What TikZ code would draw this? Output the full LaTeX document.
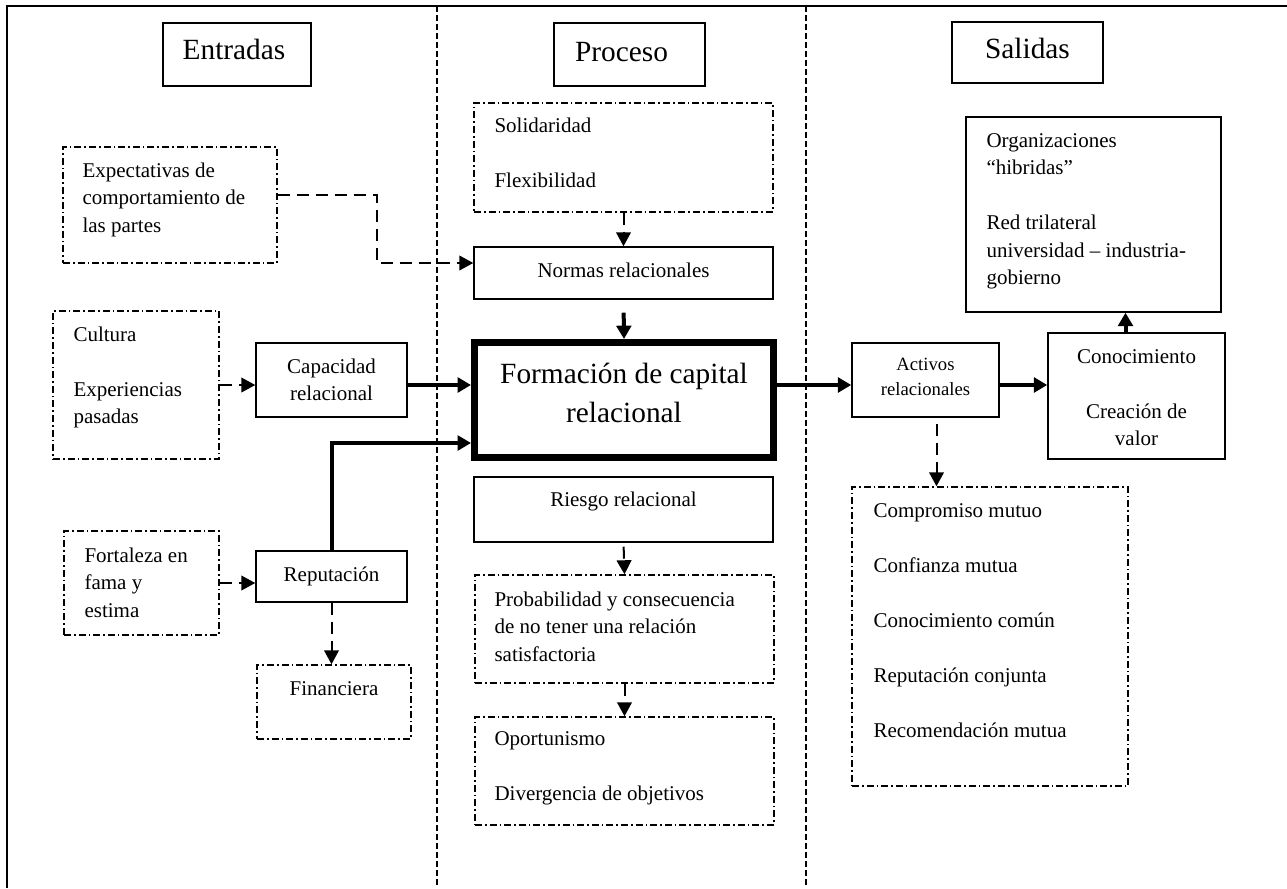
\documentclass[tikz,border=0pt]{standalone}
\usepackage{fontspec}
\setmainfont{Liberation Serif}
\usetikzlibrary{arrows.meta,calc,fit}

% text blocks whose baseline is the baseline of their first line
\newcommand\lft[1]{\parbox[t]{8cm}{\raggedright #1}}
\newcommand\ctr[1]{\parbox[t]{8cm}{\centering #1}}

\begin{document}
\begin{tikzpicture}[x=0.75pt,y=-0.75pt,
  every node/.style={inner sep=0pt},
  frame/.style={line width=1.5pt},
  sep/.style={line width=1pt, dash pattern=on 4.5pt off 2.25pt},
  solidbox/.style={draw, line width=1.1pt},
  ddbox/.style={draw, line width=1.1pt, dash pattern=on 5.25pt off 2.25pt on 1.2pt off 2.25pt},
  mainbox/.style={draw, line width=5.25pt},
  title/.style={font=\fontsize{22}{26}\selectfont, anchor=base},
  bigtxt/.style={font=\fontsize{22}{29.25}\selectfont, anchor=base},
  txt/.style={font=\fontsize{15.75}{20.6}\selectfont, anchor=base west},
  ctxt/.style={font=\fontsize{15.75}{20.6}\selectfont, anchor=base},
  smalltxt/.style={font=\fontsize{14}{18.75}\selectfont, anchor=base},
  flow/.style={-{Triangle[length=10pt,width=11pt]}, line width=3pt},
  weak/.style={-{Triangle[length=10.5pt,width=11pt]}, line width=1.5pt, dash pattern=on 9pt off 5.25pt},
]
\useasboundingbox (0,0) rectangle (1287,888);

% outer frame and column separators
\draw[frame] (7,888) -- (7,6) -- (1287,6);
\draw[sep] (437,6) -- (437,888);
\draw[sep] (806,6) -- (806,888);

% column headers
\node[solidbox, fit={(163,23)(311,86)}] (ent) {};
\node[solidbox, fit={(554,23)(705,86)}] (pro) {};
\node[solidbox, fit={(952,22)(1103,83)}] (sal) {};
\node[title] (entT) at ($(ent.north)+(-3,37)$) {Entradas};
\node[title] (proT) at ($(pro.north)+(-8,39)$) {Proceso};
\node[title] (salT) at ($(sal.north)+(0,37)$) {Salidas};

% boxes
\node[ddbox, fit={(474,103)(773,212)}] (sol) {};
\node[solidbox, fit={(474,247)(773,299)}] (nor) {};
\node[ddbox, fit={(63,147)(277,263)}] (exp) {};
\node[ddbox, fit={(53,311)(219,459)}] (cul) {};
\node[solidbox, fit={(256,343)(407,417)}] (cap) {};
\node[mainbox, fit={(474.5,342.5)(773.5,457.5)}] (frm) {};
\node[solidbox, fit={(852,343)(999,417)}] (act) {};
\node[solidbox, fit={(1048,333)(1225,459)}] (con) {};
\node[solidbox, fit={(966,117)(1221,312)}] (org) {};
\node[solidbox, fit={(474,477)(773,542)}] (rie) {};
\node[ddbox, fit={(64,531)(219,635)}] (fort) {};
\node[solidbox, fit={(256,551)(407,602)}] (rep) {};
\node[ddbox, fit={(475,575)(774,683)}] (prob) {};
\node[ddbox, fit={(257,665)(411,739)}] (fin) {};
\node[ddbox, fit={(475,717)(774,825)}] (opo) {};
\node[ddbox, fit={(852,487)(1128,786)}] (comp) {};

% box texts
\node[txt] (solT) at ($(sol.north west)+(21,30)$) {\lft{Solidaridad\\[20.6pt]Flexibilidad}};
\node[ctxt] (norT) at ($(nor.north)+(0,31)$) {Normas relacionales};
\node[txt] (expT) at ($(exp.north west)+(20,31)$) {\lft{Expectativas  de\\comportamiento de\\las partes}};
\node[txt] (culT) at ($(cul.north west)+(21,31)$) {\lft{Cultura\\[20.6pt]Experiencias\\pasadas}};
\node[ctxt] (capT) at ($(cap.north)+(0,31)$) {\ctr{Capacidad\\relacional}};
\node[bigtxt] (frmT) at ($(frm.center)+(0,-17)$) {\ctr{Formación de capital\\relacional}};
\node[smalltxt] (actT) at ($(act.north)+(0,28)$) {\ctr{Activos\\relacionales}};
\node[ctxt] (conT) at ($(con.north)+(0,31)$) {\ctr{Conocimiento\\[20.6pt]Creación de\\valor}};
\node[txt] (orgT) at ($(org.north west)+(21,31)$) {\lft{Organizaciones\\“hibridas”\\[20.6pt]Red trilateral\\universidad – industria-\\gobierno}};
\node[ctxt] (rieT) at ($(rie.north)+(0,30)$) {Riesgo relacional};
\node[txt] (fortT) at ($(fort.north west)+(21,32)$) {\lft{Fortaleza en\\fama y\\estima}};
\node[ctxt] (repT) at ($(rep.north)+(0,31)$) {Reputación};
\node[txt] (probT) at ($(prob.north west)+(20,32)$) {\lft{Probabilidad y consecuencia\\de no tener una relación\\satisfactoria}};
\node[ctxt] (finT) at ($(fin.north)+(0,31)$) {Financiera};
\node[txt] (opoT) at ($(opo.north west)+(20,29)$) {\lft{Oportunismo\\[20.6pt]Divergencia de objetivos}};
\node[txt] (compT) at ($(comp.north west)+(22,31)$) {\lft{Compromiso mutuo\\[20.6pt]Confianza mutua\\[20.6pt]Conocimiento común\\[20.6pt]Reputación conjunta\\[20.6pt]Recomendación mutua}};

% connectors
\draw[weak] (sol.south) -- (nor.north);
\draw[weak] ($(exp.east)+(0,-10)$) -- ++(99,0) |- ($(nor.west)+(0,-10)$);
\draw[flow, shorten <=9.75pt] (nor.south) -- (frm.north);
\draw[weak] (cul.east) -- (cul.east -| cap.west);
\coordinate (c1) at ($(cap.east)+(0,5)$);
\draw[flow] (c1) -- (c1 -| frm.west);
\draw[flow] (rep.north) |- ($(frm.west)+(0,43)$);
\draw[weak] (fort.east) -- (fort.east -| rep.west);
\draw[weak] (rep.south) -- (rep.south |- fin.north);
\draw[weak, shorten <=3pt] (rie.south) -- (prob.north);
\draw[weak] (prob.south) -- (opo.north);
\coordinate (c2) at ($(frm.east)+(0,-15)$);
\draw[flow] (c2) -- (c2 -| act.west);
\coordinate (c3) at ($(act.east)+(0,5)$);
\draw[flow] (c3) -- (c3 -| con.west);
\coordinate (c4) at ($(con.north)+(-11,0)$);
\draw[flow] (c4) -- (c4 |- org.south);
\coordinate (c5) at ($(act.south)+(11,0)$);
\draw[weak, shorten <=5pt] (c5) -- (c5 |- comp.north);
\end{tikzpicture}
\end{document}
